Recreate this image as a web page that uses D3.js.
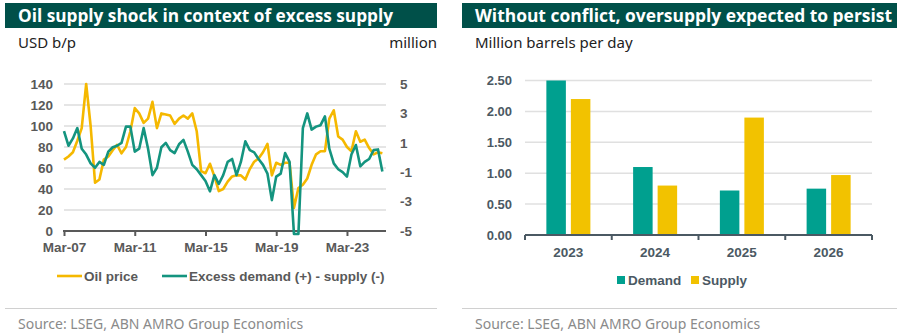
<!DOCTYPE html>
<html>
<head>
<meta charset="utf-8">
<script src="https://cdn.jsdelivr.net/npm/d3@7"></script>
<style>
  body { margin: 0; background: #fff; }
  text { font-family: "Liberation Sans", Arial, sans-serif; }
</style>
</head>
<body>
<div id="chart"></div>
<script>
(function () {
  'use strict';

  // left panel: quarterly, starting Mar-07
  var oilPrice = [68, 71, 75, 86, 98, 140, 100, 46, 49, 68, 71, 77, 82, 74, 80, 95,
    117, 112, 103, 107, 123, 98, 112, 111, 110, 102, 107, 110, 107, 112, 95, 57,
    55, 64, 52, 38, 40, 47, 52, 53, 53, 49, 59, 66, 69, 75, 83, 53,
    65, 63, 65, 65, 22, 41, 44, 50, 63, 73, 76, 76, 107, 115, 90, 87,
    80, 76, 95, 85, 87, 79, 73, 75, 74];
  var excessDemand = [1.8, 0.8, 1.3, 2.0, 0.6, 0.2, -0.4, -0.7, -0.3, -0.5, 0.4, 0.7, 0.8, 1.0, 2.1, 2.1,
    0.4, 0.6, 2.0, 0.6, -1.2, -0.7, 0.7, 1.0, 0.5, 0.3, 0.9, 1.2, 0.4, -0.5, -0.8, -1.2,
    -1.6, -2.3, -1.2, -1.8, -1.2, -0.3, -0.1, -1.2, -0.3, 1.1, 0.5, 0.35, -0.1, -0.5, -1.1, -2.9,
    -1.3, -1.1, 0.3, -0.3, -5.2, -5.2, 2.0, 3.0, 1.9, 2.1, 2.2, 2.8, 0.6, -0.4, -0.8, -1.0,
    -1.3, 0.2, 0.85, -0.6, -0.3, -0.1, 0.5, 0.55, -0.95];
  var leftTicks = [0, 20, 40, 60, 80, 100, 120, 140];
  var rightTicks = [-5, -3, -1, 1, 3, 5];
  var dateTicks = ["Mar-07", "Mar-11", "Mar-15", "Mar-19", "Mar-23"];

  // right panel
  var years = ["2023", "2024", "2025", "2026"];
  var demand = [2.5, 1.1, 0.72, 0.75];
  var supply = [2.2, 0.8, 1.9, 0.97];
  var barTicks = [0, 0.5, 1, 1.5, 2, 2.5];

  var teal = "#14947f", yellow = "#f5b800";
  var barTeal = "#00a08f", barYellow = "#f2c200";
  var dark = "#005049", grey = "#595959", slate = "#4b5963";

  var svg = d3.select("#chart").append("svg")
    .attr("width", 897).attr("height", 334);

  function panelHead(x0, w, title, titleLen, unit) {
    svg.append("rect").attr("x", x0).attr("y", 3).attr("width", w).attr("height", 25).attr("fill", dark);
    svg.append("text").attr("x", x0 + 13).attr("y", 21.5)
      .attr("textLength", titleLen).attr("lengthAdjust", "spacingAndGlyphs")
      .style("font-family", "'Open Sans', sans-serif").style("font-weight", 700)
      .style("font-size", "17px").attr("fill", "#fff").text(title);
    svg.append("text").attr("x", x0 + 13).attr("y", 48)
      .style("font-family", "'Noto Sans', sans-serif").style("font-size", "15px")
      .attr("fill", "#222").text(unit);
    svg.append("line").attr("x1", x0).attr("x2", x0 + w).attr("y1", 308.5).attr("y2", 308.5)
      .attr("stroke", "#d0d0d0").attr("stroke-width", 1.2);
    svg.append("text").attr("x", x0 + 13).attr("y", 329)
      .style("font-family", "'Noto Sans', sans-serif").style("font-size", "14px")
      .attr("fill", "#8a8a8a").text("Source: LSEG, ABN AMRO Group Economics");
  }

  panelHead(5, 432, "Oil supply shock in context of excess supply", 375, "USD b/p");
  panelHead(462, 435, "Without conflict, oversupply expected to persist", 417, "Million barrels per day");

  svg.append("text").attr("x", 437).attr("y", 48).attr("text-anchor", "end")
    .style("font-family", "'Noto Sans', sans-serif").style("font-size", "15px")
    .attr("fill", "#222").text("million");

  // ---- left: line chart ----
  var parse = d3.timeParse("%b-%y");
  var dates = oilPrice.map(function (d, i) { return new Date(2007, 2 + 3 * i, 1); });
  var x = d3.scaleTime().domain([new Date(2007, 2, 1), new Date(2025, 4, 15)]).range([64, 386]);
  var yL = d3.scaleLinear().domain([0, 140]).range([231, 84]);
  var yR = d3.scaleLinear().domain([-5, 5]).range([231, 84]);

  var gl = svg.append("g");
  gl.selectAll(".grid").data(leftTicks.slice(1)).enter().append("line")
    .attr("x1", 64).attr("x2", 386)
    .attr("y1", function (d) { return yL(d); }).attr("y2", function (d) { return yL(d); })
    .attr("stroke", "#dcdcdc").attr("stroke-width", 1.5);

  var lblStyle = function (s) {
    s.style("font-size", "13.5px").style("font-weight", 700).attr("fill", grey);
  };

  gl.selectAll(".yl").data(leftTicks).enter().append("text")
    .attr("x", 53).attr("y", function (d) { return yL(d); }).attr("dy", "0.36em")
    .attr("text-anchor", "end").call(lblStyle).text(function (d) { return d; });
  gl.selectAll(".yr").data(rightTicks).enter().append("text")
    .attr("x", 400).attr("y", function (d) { return yR(d); }).attr("dy", "0.36em")
    .call(lblStyle).text(function (d) { return d; });

  var xAxis = d3.axisBottom(x)
    .tickValues(dateTicks.map(function (t) { return parse(t); }))
    .tickFormat(d3.timeFormat("%b-%y")).tickSizeInner(5).tickSizeOuter(0).tickPadding(6);
  var ax = gl.append("g").attr("transform", "translate(0,231)").call(xAxis);
  ax.select(".domain").attr("stroke", grey).attr("stroke-width", 2).attr("d", "M63,0H386");
  ax.selectAll(".tick line").attr("stroke", grey).attr("stroke-width", 2);
  ax.selectAll(".tick text").call(lblStyle).style("font-family", "'Liberation Sans', Arial, sans-serif");

  var lineOil = d3.line().x(function (d, i) { return x(dates[i]); }).y(function (d) { return yL(d); });
  var lineEx = d3.line().x(function (d, i) { return x(dates[i]); }).y(function (d) { return yR(d); });

  gl.append("path").datum(oilPrice).attr("d", lineOil)
    .attr("fill", "none").attr("stroke", yellow).attr("stroke-width", 2.6).attr("stroke-linejoin", "round");
  gl.append("path").datum(excessDemand).attr("d", lineEx)
    .attr("fill", "none").attr("stroke", teal).attr("stroke-width", 2.6).attr("stroke-linejoin", "round");

  var legL = [{ name: "Oil price", c: yellow, x: 57 }, { name: "Excess demand (+) - supply (-)", c: teal, x: 162 }];
  legL.forEach(function (l) {
    gl.append("line").attr("x1", l.x).attr("x2", l.x + 25).attr("y1", 276).attr("y2", 276)
      .attr("stroke", l.c).attr("stroke-width", 2.6);
    gl.append("text").attr("x", l.x + 27).attr("y", 276).attr("dy", "0.36em").call(lblStyle).text(l.name);
  });

  // ---- right: bar chart ----
  var gr = svg.append("g").style("font-family", "'Noto Sans', sans-serif");
  var xb = d3.scaleBand().domain(years).range([525, 872]);
  var xs = d3.scaleBand().domain(["Demand", "Supply"]).range([0, xb.bandwidth()])
    .paddingInner(0.204).paddingOuter(0.872);
  var yb = d3.scaleLinear().domain([0, 2.5]).range([235, 80.5]);

  gr.selectAll(".grid").data(barTicks.slice(1)).enter().append("line")
    .attr("x1", 525).attr("x2", 872)
    .attr("y1", function (d) { return yb(d); }).attr("y2", function (d) { return yb(d); })
    .attr("stroke", "#e0e0e0").attr("stroke-width", 1.5);

  gr.selectAll(".yl").data(barTicks).enter().append("text")
    .attr("x", 512).attr("y", function (d) { return yb(d); }).attr("dy", "0.36em")
    .attr("text-anchor", "end").style("font-size", "13px").style("font-weight", 600)
    .attr("fill", slate).text(d3.format(".2f"));

  var rows = years.map(function (y, i) {
    return [{ year: y, key: "Demand", v: demand[i], c: barTeal }, { year: y, key: "Supply", v: supply[i], c: barYellow }];
  });
  gr.selectAll(".grp").data(rows).enter().append("g")
    .selectAll("rect").data(function (d) { return d; }).enter().append("rect")
    .attr("x", function (d) { return xb(d.year) + xs(d.key); })
    .attr("width", xs.bandwidth())
    .attr("y", function (d) { return yb(d.v); })
    .attr("height", function (d) { return yb(0) - yb(d.v); })
    .attr("fill", function (d) { return d.c; });

  var bx = gr.append("g").attr("transform", "translate(0,235)");
  bx.append("line").attr("x1", 525).attr("x2", 872).attr("stroke", slate).attr("stroke-width", 2);
  bx.selectAll(".tk").data(years.concat(["end"])).enter().append("line")
    .attr("x1", function (d, i) { return i < years.length ? xb(d) : 872; })
    .attr("x2", function (d, i) { return i < years.length ? xb(d) : 872; })
    .attr("y1", 0).attr("y2", 5).attr("stroke", slate).attr("stroke-width", 2);
  bx.selectAll(".cat").data(years).enter().append("text")
    .attr("x", function (d) { return xb(d) + xb.bandwidth() / 2; }).attr("y", 22)
    .attr("text-anchor", "middle").style("font-size", "13.5px").style("font-weight", 600)
    .attr("fill", slate).text(function (d) { return d; });

  var legR = [{ name: "Demand", c: barTeal, x: 617 }, { name: "Supply", c: barYellow, x: 691 }];
  legR.forEach(function (l) {
    gr.append("rect").attr("x", l.x).attr("y", 276).attr("width", 8).attr("height", 8).attr("fill", l.c);
    gr.append("text").attr("x", l.x + 11).attr("y", 280).attr("dy", "0.36em")
      .style("font-size", "13.5px").style("font-weight", 600).attr("fill", slate).text(l.name);
  });
})();
</script>
</body>
</html>
